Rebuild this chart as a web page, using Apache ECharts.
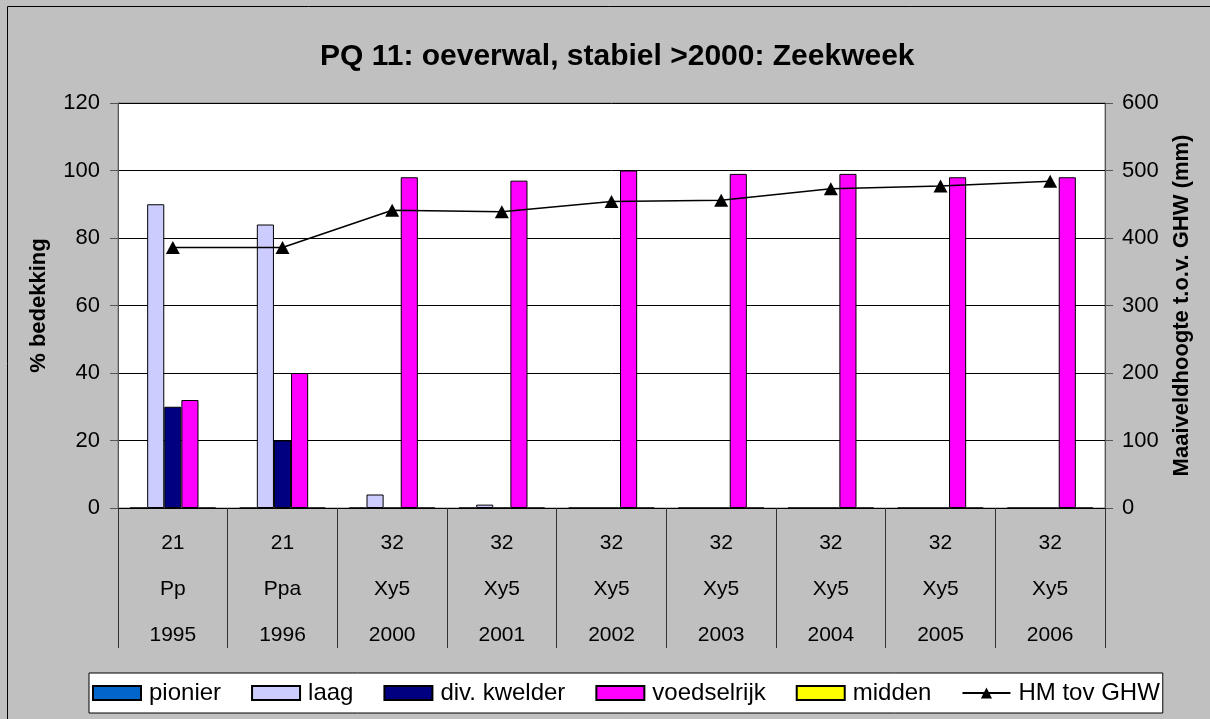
<html>
<head>
    <meta charset="utf-8">
    <title>PQ 11</title>
    <script src="https://cdn.jsdelivr.net/npm/echarts@6/dist/echarts.min.js"></script>
    <style>
        body { margin: 0; background: #c0c0c0; }
    </style>
</head>
<body>
<div id="chartmain" style="width:1210px; height:719px;"></div>
<script type="text/javascript">
    // categorie-labels (drie regels onder de as)
    var codes = ['21', '21', '32', '32', '32', '32', '32', '32', '32'];
    var types = ['Pp', 'Ppa', 'Xy5', 'Xy5', 'Xy5', 'Xy5', 'Xy5', 'Xy5', 'Xy5'];
    var years = ['1995', '1996', '2000', '2001', '2002', '2003', '2004', '2005', '2006'];

    // % bedekking per zone
    var pionier = [0, 0, 0, 0, 0, 0, 0, 0, 0];
    var laag = [90, 84, 4, 1, 0, 0, 0, 0, 0];
    var kwelder = [30, 20, 0, 0, 0, 0, 0, 0, 0];
    var voedselrijk = [32, 40, 98, 97, 100, 99, 99, 98, 98];
    var midden = [0, 0, 0, 0, 0, 0, 0, 0, 0];

    // maaiveldhoogte (mm) t.o.v. GHW
    var hm = [386, 386, 441, 439, 454, 456, 473, 477, 484];

    var categories = [];
    for (var i = 0; i < years.length; i++) {
        categories.push(codes[i] + '\n' + types[i] + '\n' + years[i]);
    }

    var font = 'Liberation Sans, Arial, sans-serif';

    function bar(name, color, data) {
        return {
            name: name,
            type: 'bar',
            barGap: '0%',
            barCategoryGap: '22%',
            itemStyle: { color: color, borderColor: '#000', borderWidth: 1 },
            data: data
        };
    }

    var myChart = echarts.init(document.getElementById('chartmain'));
    myChart.setOption({
        backgroundColor: '#c0c0c0',
        animation: false,
        textStyle: { fontFamily: font, color: '#000' },
        title: {
            text: 'PQ 11: oeverwal, stabiel >2000: Zeekweek',
            left: 320,
            top: 42,
            padding: 0,
            textStyle: { fontFamily: font, fontSize: 30, fontWeight: 'bold', color: '#000' }
        },
        graphic: [{
            type: 'rect',
            shape: { x: 7.5, y: 6.5, width: 1220, height: 730 },
            style: { fill: null, stroke: '#000', lineWidth: 1 },
            silent: true
        }],
        legend: {
            top: 673,
            left: 89,
            padding: [8, 3],
            itemGap: 30,
            itemWidth: 48,
            itemHeight: 14,
            backgroundColor: '#fff',
            borderColor: '#000',
            borderWidth: 1,
            textStyle: { fontFamily: font, fontSize: 24, color: '#000', padding: [0, 0, 0, 3] },
            data: [
                { name: 'pionier', icon: 'rect' },
                { name: 'laag', icon: 'rect' },
                { name: 'div. kwelder', icon: 'rect' },
                { name: 'voedselrijk', icon: 'rect' },
                { name: 'midden', icon: 'rect' },
                'HM tov GHW'
            ]
        },
        grid: {
            left: 118,
            right: 105,
            top: 103,
            bottom: 211,
            show: true,
            backgroundColor: '#fff',
            borderColor: '#808080',
            borderWidth: 1
        },
        xAxis: {
            type: 'category',
            data: categories,
            axisLine: { show: true, lineStyle: { color: '#000', width: 1 } },
            axisTick: { show: true, interval: 0, length: 140, lineStyle: { color: '#333', width: 1 } },
            axisLabel: {
                margin: 12,
                interval: 0,
                fontFamily: font,
                fontSize: 21,
                lineHeight: 46,
                color: '#000',
                verticalAlign: 'top'
            }
        },
        yAxis: [{
            type: 'value',
            min: 0,
            max: 120,
            interval: 20,
            name: '% bedekking',
            nameLocation: 'middle',
            nameGap: 68,
            nameTextStyle: { fontFamily: font, fontSize: 22, fontWeight: 'bold', color: '#000' },
            axisLine: { show: true, lineStyle: { color: '#555' } },
            axisTick: { show: true, length: 8, lineStyle: { color: '#555' } },
            axisLabel: { margin: 18, fontFamily: font, fontSize: 22, color: '#000' },
            splitLine: { lineStyle: { color: '#000', width: 1 } }
        }, {
            type: 'value',
            min: 0,
            max: 600,
            interval: 100,
            name: 'Maaiveldhoogte t.o.v. GHW (mm)',
            nameLocation: 'middle',
            nameGap: 66,
            nameTextStyle: { fontFamily: font, fontSize: 22, fontWeight: 'bold', color: '#000' },
            axisLine: { show: true, lineStyle: { color: '#555' } },
            axisTick: { show: true, length: 8, lineStyle: { color: '#555' } },
            axisLabel: { margin: 17, fontFamily: font, fontSize: 22, color: '#000' },
            splitLine: { show: false }
        }],
        series: [
            bar('pionier', '#0066cc', pionier),
            bar('laag', '#ccccff', laag),
            bar('div. kwelder', '#000080', kwelder),
            bar('voedselrijk', '#ff00ff', voedselrijk),
            bar('midden', '#ffff00', midden),
            {
                name: 'HM tov GHW',
                type: 'line',
                yAxisIndex: 1,
                z: 5,
                symbol: 'triangle',
                symbolSize: [14, 13],
                itemStyle: { color: '#000' },
                lineStyle: { color: '#000', width: 1.5 },
                data: hm
            }
        ]
    });
</script>
</body>
</html>
